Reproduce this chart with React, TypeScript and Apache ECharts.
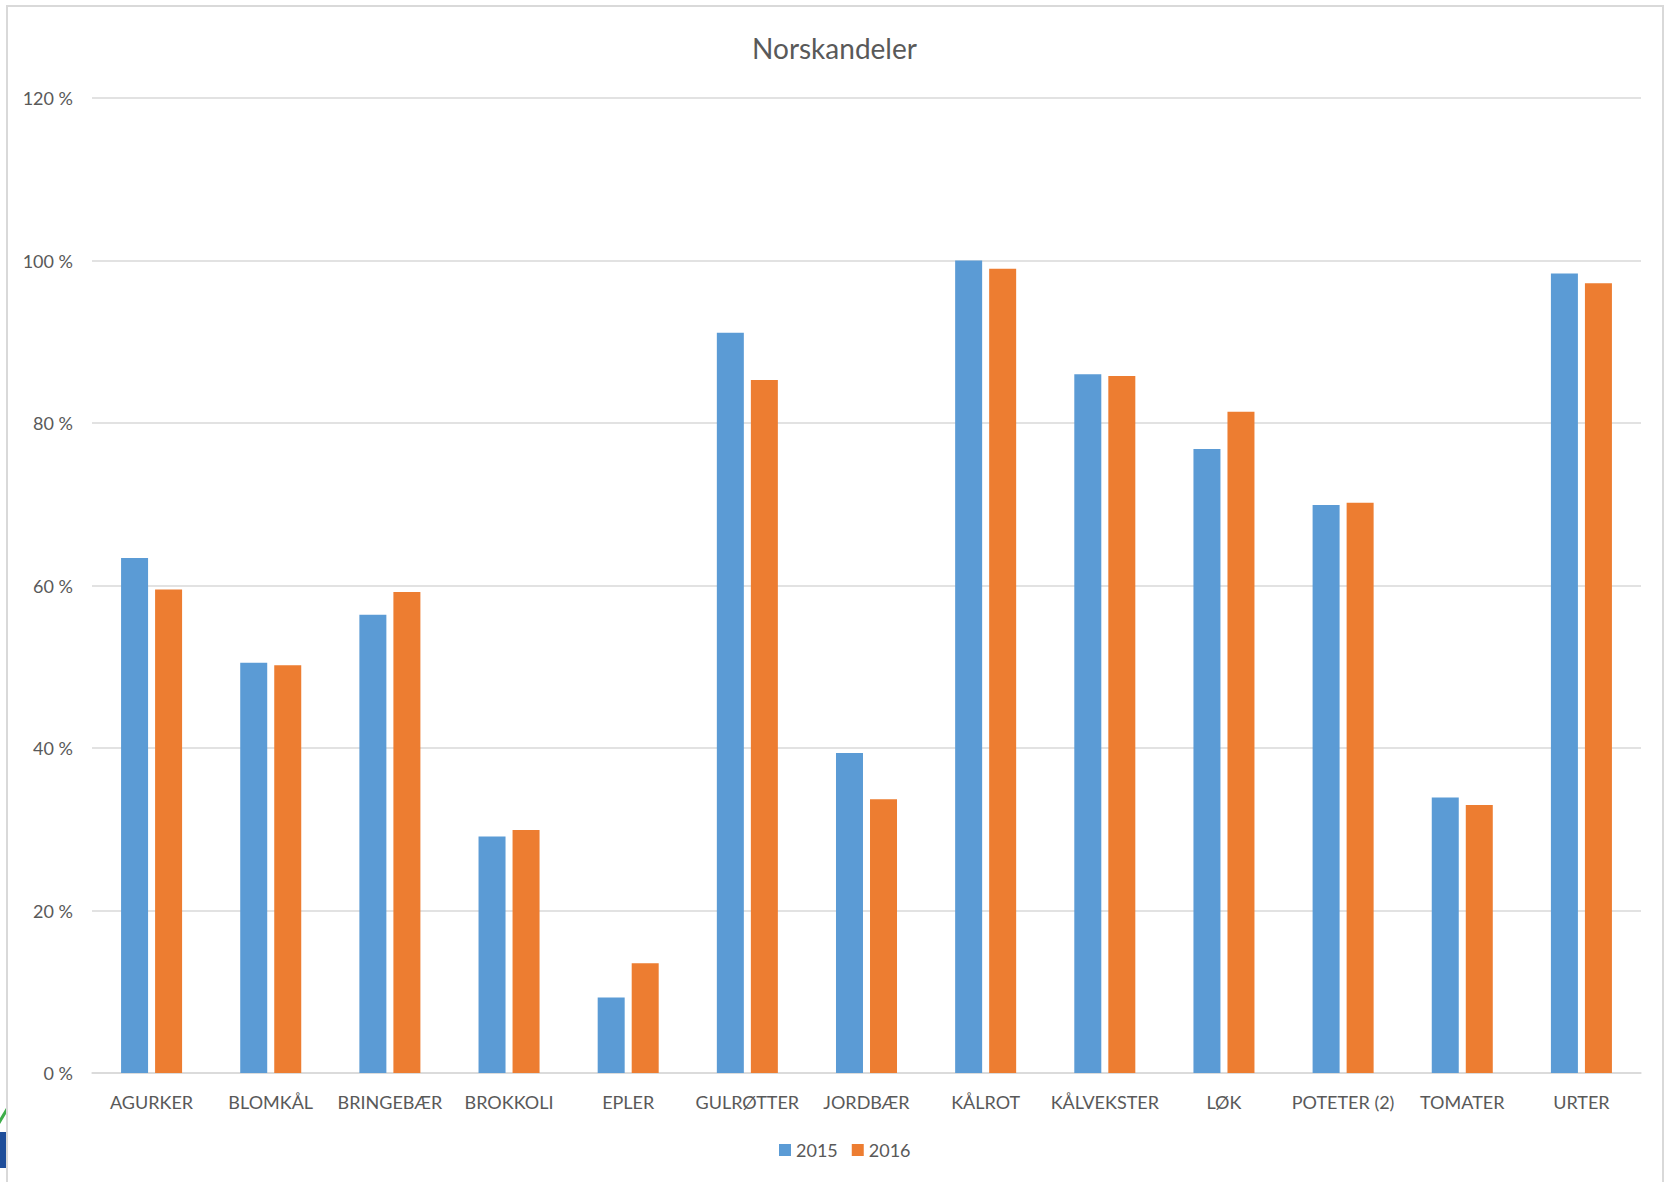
import React, { useEffect, useRef } from "react";
import * as echarts from "echarts";

const categories = [
  "AGURKER", "BLOMKÅL", "BRINGEBÆR", "BROKKOLI", "EPLER", "GULRØTTER", "JORDBÆR",
  "KÅLROT", "KÅLVEKSTER", "LØK", "POTETER (2)", "TOMATER", "URTER",
];
const values2015 = [63.4, 50.5, 56.4, 29.1, 9.3, 91.1, 39.4, 100.0, 86.0, 76.8, 69.9, 33.9, 98.4];
const values2016 = [59.5, 50.2, 59.2, 29.9, 13.5, 85.3, 33.7, 99.0, 85.8, 81.4, 70.2, 33.0, 97.2];
const seriesNames = ["2015", "2016"];
const yTicks = { min: 0, max: 120, interval: 20 };

const FONT = "Lato, 'Open Sans', sans-serif";

export default function App() {
  const ref = useRef<HTMLDivElement>(null);
  useEffect(() => {
    if (!ref.current) return;
    const chart = echarts.init(ref.current, undefined, { renderer: "svg" });
    chart.setOption({
      animation: false,
      backgroundColor: "#ffffff",
      textStyle: { fontFamily: FONT },
      title: {
        text: "Norskandeler",
        left: "center",
        top: 29,
        textStyle: { fontFamily: FONT, fontSize: 28, fontWeight: "normal", color: "#595959" },
      },
      legend: {
        data: seriesNames,
        bottom: 18,
        left: 774,
        itemWidth: 12,
        itemHeight: 12,
        itemGap: 14,
        icon: "rect",
        textStyle: { fontFamily: FONT, fontSize: 18, color: "#595959", padding: [0, 0, 0, 0] },
      },
      grid: { left: 92, right: 28, top: 98, bottom: 109, containLabel: false },
      xAxis: {
        type: "category",
        data: categories,
        axisLine: { lineStyle: { color: "#D9D9D9", width: 1.5 } },
        axisTick: { show: false },
        axisLabel: { fontFamily: FONT, fontSize: 18, color: "#595959", margin: 20, interval: 0 },
      },
      yAxis: {
        type: "value",
        min: yTicks.min,
        max: yTicks.max,
        interval: yTicks.interval,
        axisLine: { show: false },
        axisTick: { show: false },
        splitLine: { lineStyle: { color: "#D9D9D9", width: 1.5 } },
        axisLabel: {
          fontFamily: FONT, fontSize: 18, color: "#595959", margin: 19,
          formatter: "{value} %",
        },
      },
      series: [
        {
          name: seriesNames[0], type: "bar", data: values2015, barWidth: 27, barGap: "26%",
          itemStyle: { color: "#5B9BD5" },
        },
        {
          name: seriesNames[1], type: "bar", data: values2016, barWidth: 27, barGap: "26%",
          itemStyle: { color: "#ED7D31" },
        },
      ],
      graphic: [
        {
          type: "rect", shape: { x: 7, y: 6, width: 1656, height: 1220 },
          style: { fill: "none", stroke: "#D9D9D9", lineWidth: 2 }, silent: true,
        },
        {
          type: "polygon", shape: { points: [[0, 1118], [6, 1108], [6, 1114], [0, 1124]] },
          style: { fill: "#3EAE49" }, silent: true,
        },
        {
          type: "rect", shape: { x: 0, y: 1132, width: 6, height: 36 },
          style: { fill: "#1F4E9A" }, silent: true,
        },
      ],
    });
    return () => chart.dispose();
  }, []);
  return (
    <div
      ref={ref}
      style={{ position: "fixed", left: 0, top: 0, width: 1669, height: 1182 }}
    />
  );
}
